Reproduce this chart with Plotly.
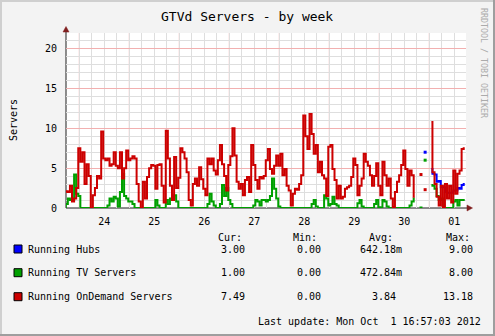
from datetime import datetime, timedelta
import plotly.graph_objects as go

nan = float("nan")

# ---- data: hourly samples, first sample 2012-09-23 17:00 ----
start = datetime(2012, 9, 23, 17, 0)

ondemand = [
    2.0, 2.1, 2.0, 2.8, 0.8, 1.2, 2.5, 7.5, 5.8, 7.0,
    3.0, 5.5, 4.0, 0.0, 1.6, 2.5, 4.0, 3.7, 9.6, 6.2,
    6.0, 6.2, 5.3, 5.5, 7.0, 5.3, 5.0, 7.0, 3.7, 5.0,
    7.2, 6.0, 6.2, 6.5, 6.2, 3.0, 0.8, 0.0, 3.3, 1.2,
    3.9, 5.0, 5.4, 5.3, 2.4, 5.4, 5.5, 2.8, 0.7, 9.7,
    6.2, 2.8, 1.0, 6.4, 2.5, 3.8, 7.5, 7.0, 6.2, 4.5,
    1.0, 0.3, 3.0, 3.7, 2.8, 5.1, 3.6, 2.4, 1.6, 6.2,
    5.5, 6.2, 4.7, 4.2, 6.0, 7.9, 5.5, 4.0, 2.2, 5.4,
    6.5, 10.0, 6.6, 3.3, 2.4, 3.0, 1.6, 3.5, 3.9, 2.0,
    7.9, 5.4, 3.5, 2.4, 3.9, 3.7, 4.0, 6.0, 7.4, 4.9,
    4.3, 5.3, 6.6, 5.3, 6.8, 4.1, 4.9, 2.8, 2.2, 0.3,
    1.8, 2.4, 2.3, 3.0, 4.1, 11.6, 9.0, 7.4, 11.8, 9.3,
    6.8, 7.9, 4.5, 5.8, 4.1, 3.7, 1.5, 7.7, 7.9, 4.9,
    3.5, 1.2, 2.8, 1.2, 1.4, 2.4, 2.6, 2.8, 3.9, 6.2,
    5.4, 1.6, 2.8, 3.7, 6.8, 5.8, 5.3, 4.1, 2.8, 4.0,
    5.6, 2.8, 1.6, 5.8, 4.1, 2.8, 3.7, 1.2, 0.1, 2.0,
    3.3, 4.1, 5.4, 7.2, 4.9, 2.8, 4.7, 4.1, 1.4, nan,
    nan, 4.2, nan, 2.3, nan, nan, 10.8, 4.5, 3.0, 1.4,
    0.3, 2.8, 0.1, 3.0, 1.2, 2.8, 0.7, 4.7, 1.8, 4.3,
    4.7, 7.4, 7.49,
]

tv = [
    0.0, 0.5, 1.2, 1.0, 1.0, 4.2, 1.8, 1.5, 0.0, 0.0,
    0.0, 0.0, 0.0, 0.0, 0.0, 0.0, 0.0, 0.0, 0.0, 0.0,
    0.0, 0.3, 1.2, 0.8, 1.4, 1.2, 0.2, 2.0, 4.3, 1.5,
    1.2, 0.8, 0.8, 0.5, 0.0, 0.0, 0.0, 0.0, 0.0, 0.0,
    0.0, 0.0, 0.0, 0.0, 1.0, 0.3, 0.0, 0.0, 0.0, 1.0,
    0.5, 1.2, 1.2, 1.6, 0.8, 0.0, 0.0, 0.0, 0.0, 0.0,
    0.0, 0.0, 0.0, 0.0, 0.0, 0.0, 0.0, 0.0, 0.0, 0.5,
    1.8, 0.8, 0.3, 0.0, 0.0, 0.5, 2.9, 1.5, 2.5, 1.0,
    0.5, 0.0, 0.0, 0.0, 0.0, 0.0, 0.0, 0.0, 0.0, 0.0,
    0.0, 0.3, 1.0, 0.8, 0.3, 1.0, 1.0, 0.8, 1.0, 1.5,
    3.7, 2.4, 1.2, 0.2, 0.0, 0.0, 0.0, 0.0, 0.0, 0.0,
    0.0, 0.0, 0.0, 0.0, 0.0, 0.0, 0.0, 0.0, 0.0, 0.5,
    1.0, 0.2, 0.0, 0.0, 0.0, 1.6, 1.2, 0.3, 0.5, 1.4,
    0.5, 0.3, 0.0, 0.0, 0.0, 0.0, 0.0, 0.0, 0.0, 0.0,
    0.0, 0.6, 1.0, 0.2, 0.0, 0.0, 0.0, 0.0, 0.0, 0.5,
    1.0, 0.1, 0.0, 1.0, 0.8, 0.2, 0.0, 0.0, 0.0, 0.0,
    0.0, 0.0, 0.0, 0.0, 0.0, 0.0, 0.3, 0.8, 1.2, nan,
    nan, 0.0, nan, 6.0, nan, nan, 2.9, 2.8, 2.4, 1.5,
    1.0, 1.2, 0.0, 0.0, 0.0, 0.0, 0.0, 0.8, 1.0, 0.3,
    1.0, 1.0, 1.0,
]

# hubs are only reported from 2012-09-30 22:00 on
hubs_start = datetime(2012, 9, 30, 22, 0)
hubs = [7.0, nan, nan, 4.9, 4.3, 4.2, 3.3, 3.4, 2.6, 2.6, 2.0, 1.9,
        1.9, 1.9, 2.2, 2.2, 2.5, 2.4, 2.9, 3.0]

series_names = ["Running Hubs", "Running TV Servers", "Running OnDemand Servers"]
series_colors = ["#0000FF", "#00A000", "#CC0000"]
cur_vals = ["3.00", "1.00", "7.49"]
min_vals = ["0.00", "0.00", "0.00"]
avg_vals = ["642.18m", "472.84m", "3.84"]
max_vals = ["9.00", "8.00", "13.18"]

day_labels = ["24", "25", "26", "27", "28", "29", "30", "01"]
y_ticks = [0, 5, 10, 15, 20]

title = "GTVd Servers - by week"
last_update = "Last update: Mon Oct\u00a0\u00a01 16:57:03 2012"

# ---- geometry helpers (pixel -> paper) ----
W, H = 495, 336
L, R, T, B = 66, 466, 33, 208
FONT = "DejaVu Sans Mono"


def px(x):
    return (x - L) / (R - L)


def py(y):
    return (B - y) / (B - T)


t_ondemand = [start + timedelta(hours=i) for i in range(len(ondemand))]
t_tv = [start + timedelta(hours=i) for i in range(len(tv))]
t_hubs = [hubs_start + timedelta(hours=i) for i in range(len(hubs))]


def isolated(ts, vals):
    xs, ys = [], []
    n = len(vals)
    for i, v in enumerate(vals):
        if v != v:
            continue
        prev_gap = i == 0 or vals[i - 1] != vals[i - 1]
        next_gap = i == n - 1 or vals[i + 1] != vals[i + 1]
        if prev_gap and next_gap:
            xs.append(ts[i])
            ys.append(v)
    return xs, ys


fig = go.Figure()
for ts, vals, col in [(t_hubs, hubs, series_colors[0]),
                      (t_tv, tv, series_colors[1]),
                      (t_ondemand, ondemand, series_colors[2])]:
    fig.add_trace(go.Scatter(x=ts, y=vals, mode="lines",
                             line=dict(color=col, width=2, shape="hvh"),
                             connectgaps=False, showlegend=False,
                             hoverinfo="skip", cliponaxis=False))
    ix, iy = isolated(ts, vals)
    if ix:
        fig.add_trace(go.Scatter(x=ix, y=iy, mode="markers",
                                 marker=dict(color=col, size=3, symbol="square",
                                             line=dict(width=0)),
                                 showlegend=False, hoverinfo="skip"))

x0 = start + timedelta(hours=0.614)
x1 = start + timedelta(hours=192.61)
first_midnight = datetime(2012, 9, 24)
midnights = [first_midnight + timedelta(days=d) for d in range(len(day_labels))]
noons = [m + timedelta(hours=12) for m in midnights]

GRID = "#DEDEDE"
MGRID = "#F2B0B0"

fig.update_layout(
    width=W, height=H,
    margin=dict(l=L, r=W - R, t=T, b=H - B, pad=0),
    paper_bgcolor="#F3F3F3",
    plot_bgcolor="#FFFFFF",
    font=dict(family=FONT, size=10, color="#000000"),
    xaxis=dict(
        type="date", range=[x0, x1],
        tickmode="array", tickvals=noons, ticktext=day_labels,
        showgrid=False, zeroline=False, showline=False, ticks="",
        ticklabelstandoff=6,
        tickfont=dict(family=FONT, size=10, color="#000000"),
        minor=dict(dtick=6 * 3600 * 1000, tick0=first_midnight,
                   showgrid=True, gridcolor=GRID, gridwidth=1, ticks=""),
    ),
    yaxis=dict(
        range=[0, (B - T) / 7.97],
        tickmode="array", tickvals=y_ticks,
        ticktext=[str(v) for v in y_ticks],
        showgrid=True, gridcolor=MGRID, gridwidth=1,
        zeroline=False, showline=False, ticks="",
        ticklabelstandoff=8,
        tickfont=dict(family=FONT, size=10, color="#000000"),
        minor=dict(dtick=1, showgrid=True, gridcolor=GRID, gridwidth=1, ticks=""),
    ),
)

shapes = []
# day separators
for m in midnights:
    shapes.append(dict(type="line", xref="x", yref="paper", x0=m, x1=m,
                       y0=0, y1=1, line=dict(color=MGRID, width=1),
                       layer="between"))
# axes with arrow heads
AXIS = "#1F1F1F"
ARROW = "#801F1F"
shapes.append(dict(type="line", xref="paper", yref="paper",
                   x0=px(66), x1=px(468), y0=py(208), y1=py(208),
                   line=dict(color=AXIS, width=1), layer="between"))
shapes.append(dict(type="line", xref="paper", yref="paper",
                   x0=px(66), x1=px(66), y0=py(208), y1=py(30),
                   line=dict(color=AXIS, width=1), layer="between"))
shapes.append(dict(type="path", xref="paper", yref="paper",
                   path=f"M {px(66)} {py(26.5)} L {px(63)} {py(32)} L {px(69)} {py(32)} Z",
                   fillcolor=ARROW, line=dict(color=ARROW, width=0.5)))
shapes.append(dict(type="path", xref="paper", yref="paper",
                   path=f"M {px(472.5)} {py(208)} L {px(467)} {py(205)} L {px(467)} {py(211)} Z",
                   fillcolor=ARROW, line=dict(color=ARROW, width=0.5)))
# 3d frame of the image
shapes += [
    dict(type="rect", xref="paper", yref="paper", x0=px(0), x1=px(W), y0=py(0), y1=py(2),
         fillcolor="#CFCFCF", line=dict(width=0)),
    dict(type="rect", xref="paper", yref="paper", x0=px(0), x1=px(2), y0=py(0), y1=py(H),
         fillcolor="#CFCFCF", line=dict(width=0)),
    dict(type="rect", xref="paper", yref="paper", x0=px(W - 2), x1=px(W), y0=py(0), y1=py(H),
         fillcolor="#9E9E9E", line=dict(width=0)),
    dict(type="rect", xref="paper", yref="paper", x0=px(0), x1=px(W), y0=py(H - 2), y1=py(H),
         fillcolor="#9E9E9E", line=dict(width=0)),
]

ann = []


def text(x, y, s, xa="left", size=10, color="#000000", angle=0):
    ann.append(dict(xref="paper", yref="paper", x=px(x), y=py(y), text=s,
                    xanchor=xa, yanchor="middle", showarrow=False,
                    textangle=angle, borderpad=0,
                    font=dict(family=FONT, size=size, color=color)))


text(247, 16.5, title, xa="center", size=13)
text(13, 120, "Servers", xa="center", angle=-90)
text(484, 63, "RRDTOOL / TOBI OETIKER", xa="center", size=8.3, color="#ABABAB", angle=90)

# legend block
text(216.7, 237, "Cur:")
text(291.7, 237, "Min:")
text(367.7, 237, "Avg:")
text(445, 237, "Max:")
row_y = [249, 272.7, 296.7]
for i, name in enumerate(series_names):
    y = row_y[i]
    shapes.append(dict(type="rect", xref="paper", yref="paper",
                       x0=px(14), x1=px(22), y0=py(y - 4), y1=py(y + 4),
                       fillcolor=series_colors[i], line=dict(color="#000000", width=1)))
    text(26.7, y, name)
    text(246, y, cur_vals[i], xa="right")
    text(322, y, min_vals[i], xa="right")
    avg = avg_vals[i]
    text(403.3 if avg[-1].isalpha() else 397.3, y, avg, xa="right")
    text(474, y, max_vals[i], xa="right")
text(481.7, 321, last_update, xa="right")

fig.update_layout(shapes=shapes, annotations=ann)
fig.write_html("out.html")
